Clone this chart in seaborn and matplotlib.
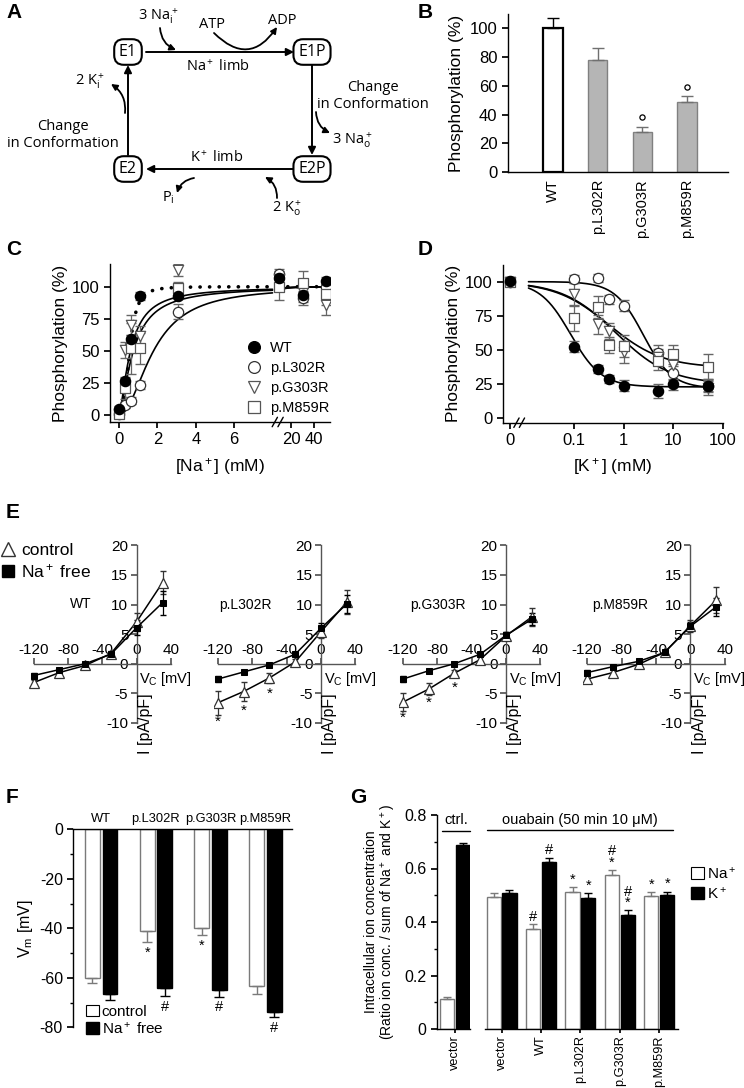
import numpy as np
import pandas as pd
import seaborn as sns
import matplotlib.pyplot as plt
from matplotlib.lines import Line2D
from matplotlib.patches import FancyArrowPatch, Patch
from matplotlib.ticker import NullLocator, MultipleLocator
from matplotlib.transforms import blended_transform_factory

sns.set_theme(style='ticks')
plt.rcParams['font.family'] = ['Liberation Sans', 'DejaVu Sans']
plt.rcParams['mathtext.fontset'] = 'custom'
plt.rcParams['mathtext.rm'] = 'Liberation Sans'
plt.rcParams['mathtext.it'] = 'Liberation Sans:italic'
plt.rcParams['mathtext.bf'] = 'Liberation Sans:bold'
plt.rcParams['mathtext.default'] = 'regular'
plt.rcParams['axes.unicode_minus'] = False
plt.rcParams['axes.edgecolor'] = 'black'
plt.rcParams['axes.linewidth'] = 1.0
plt.rcParams['xtick.color'] = 'black'
plt.rcParams['ytick.color'] = 'black'
plt.rcParams['text.color'] = 'black'
plt.rcParams['axes.labelcolor'] = 'black'

# ---------------- data ----------------
# B: phosphorylation level
b_groups = ['WT', 'p.L302R', 'p.G303R', 'p.M859R']
b_phos = [100, 78, 28, 49]
b_err = [7, 8, 3.5, 4]
b_mark = [False, False, True, True]

# C: Na+ dependence of phosphorylation
na_conc = [0, 0.3, 0.6, 1.1, 3.1, 10, 30, 50]
c_wt = [4.7, 26.5, 59, 92.7, 92.7, 107, 93.5, 104.4]
c_wt_err = [2, 3, 3, 3, 2, 4, 3, 3]
c_l302r = [0.5, 7.8, 11.2, 23.4, 80.5, 110, 91, 100]
c_l302r_err = [2, 2, 3, 3, 6, 4, 5, 5]
c_g303r = [1, 50.6, 70, 61.6, 113, 106, 96, 86]
c_g303r_err = [2, 6, 8, 8, 5, 6, 8, 8]
c_m859r = [0.5, 20.8, 52, 52, 98.7, 99.5, 102.6, 94]
c_m859r_err = [2, 8, 20, 12, 5, 10, 10, 8]
# Hill fits (K0.5 in mM, Hill coefficient)
c_fit_wt = (0.55, 3.0)
c_fit_l302r = (1.8, 2.0)
c_fit_g303r = (0.75, 1.5)
c_fit_m859r = (0.6, 1.5)

# D: K+ dependence of dephosphorylation
k_conc = [0, 0.1, 0.3, 0.5, 1, 5, 10, 50]
d_wt = [100.5, 52.4, 36, 28.8, 23.9, 20, 24.9, 23.9]
d_wt_err = [3, 4, 3, 3, 4, 5, 4, 4]
d_l302r = [100, 102, 102.4, 87, 82.4, 47.6, 33, 24]
d_l302r_err = [3, 3, 3, 3, 4, 6, 5, 5]
d_g303r = [100, 90.7, 68.8, 63.9, 48.8, 45, 39, 22]
d_g303r_err = [3, 8, 7, 6, 8, 6, 6, 5]
d_m859r = [100, 73.2, 81.7, 53.7, 53.2, 42, 46.8, 37.8]
d_m859r_err = [3, 9, 8, 6, 8, 7, 7, 9]
# inhibition fits (bottom, IC50 in mM, slope)
d_fit_wt = (23, 0.085, 1.4)
d_fit_l302r = (22, 2.5, 1.5)
d_fit_g303r = (25, 0.7, 0.8)
d_fit_m859r = (37, 0.5, 0.8)

# E: I-V relations
vc = [-120, -90, -60, -30, 0, 30]
e_names = ['WT', 'p.L302R', 'p.G303R', 'p.M859R']
e_wt_ctrl = [-3.2, -1.5, -0.3, 1.7, 7.1, 13.7]
e_wt_ctrl_err = [0.5, 0.4, 0.4, 0.4, 1.5, 2.0]
e_wt_free = [-2.0, -1.0, 0.0, 1.6, 6.1, 10.3]
e_wt_free_err = [0.4, 0.3, 0.3, 0.3, 1.3, 2.0]
e_l302r_ctrl = [-6.6, -4.7, -2.4, 0.3, 5.4, 10.4]
e_l302r_ctrl_err = [2.0, 1.6, 0.8, 0.5, 1.0, 2.0]
e_l302r_free = [-2.6, -1.4, -0.2, 1.6, 6.0, 10.1]
e_l302r_free_err = [0.5, 0.3, 0.3, 0.3, 0.8, 1.5]
e_g303r_ctrl = [-6.5, -4.3, -1.6, 0.7, 4.7, 7.9]
e_g303r_ctrl_err = [1.5, 1.0, 0.5, 0.4, 0.6, 1.5]
e_g303r_free = [-2.6, -1.2, 0.0, 1.6, 4.8, 7.5]
e_g303r_free_err = [0.5, 0.3, 0.3, 0.3, 0.5, 1.0]
e_m859r_ctrl = [-2.6, -1.5, -0.1, 1.9, 6.4, 10.7]
e_m859r_ctrl_err = [0.6, 0.4, 0.3, 0.3, 1.0, 2.2]
e_m859r_free = [-1.5, -0.5, 0.4, 1.9, 6.3, 9.6]
e_m859r_free_err = [0.4, 0.3, 0.3, 0.3, 0.8, 1.5]
e_star_v = [-120, -90, -60]
e_l302r_star = [-9.8, -7.9, -5.0]
e_g303r_star = [-9.2, -6.6, -4.0]

# F: membrane potential
f_groups = ['WT', 'p.L302R', 'p.G303R', 'p.M859R']
f_ctrl = [-60, -41, -40, -63.3]
f_ctrl_err = [2.3, 4.5, 2.7, 3.2]
f_free = [-66.5, -64, -65, -74]
f_free_err = [2.5, 3.4, 2.7, 1.9]
f_ctrl_sig = ['', '*', '*', '']
f_free_sig = ['', '#', '#', '#']

# G: intracellular ion ratio
g_ctrl_labels = ['vector']
g_ctrl_na = [0.112]
g_ctrl_na_err = [0.006]
g_ctrl_k = [0.686]
g_ctrl_k_err = [0.008]
g_labels = ['vector', 'WT', 'p.L302R', 'p.G303R', 'p.M859R']
g_na = [0.495, 0.373, 0.511, 0.576, 0.498]
g_na_err = [0.012, 0.018, 0.018, 0.018, 0.013]
g_k = [0.507, 0.625, 0.491, 0.425, 0.501]
g_k_err = [0.012, 0.016, 0.017, 0.018, 0.013]
g_na_sig = ['', '#', '*', '#\n*', '*']
g_k_sig = ['', '#', '*', '#\n*', '*']

# ---------------- layout helpers ----------------
W, H = 744, 1088
fig = plt.figure(figsize=(W / 100, H / 100), dpi=100)


def px_axes(x0, y0, x1, y1):
    return fig.add_axes([x0 / W, 1 - y1 / H, (x1 - x0) / W, (y1 - y0) / H])


def letter(x, y, s):
    fig.text(x / W, 1 - y / H, s, fontsize=15, fontweight='bold', ha='left', va='top')


letter(6, 3, 'A')
letter(418, 3, 'B')
letter(6, 240, 'C')
letter(418, 240, 'D')
letter(6, 503, 'E')
letter(6, 788, 'F')
letter(350, 788, 'G')

# ---------------- A: reaction cycle ----------------
axA = px_axes(0, 0, 370, 215)
axA.set_xlim(0, 370)
axA.set_ylim(215, 0)
axA.axis('off')
fa = dict(family=['Open Sans', 'DejaVu Sans'], fontsize=10.5)
boxes = {'E1': (128, 52), 'E1P': (312, 52), 'E2': (128, 169), 'E2P': (312, 169)}
for name, (x, y) in boxes.items():
    axA.text(x, y, name, ha='center', va='center', zorder=5, family=['Open Sans', 'DejaVu Sans'], fontsize=11.5,
             bbox=dict(boxstyle='round,pad=0.3,rounding_size=0.6', fc='white', ec='black', lw=1.5))


def arrow(p0, p1, rad=0.0, lw=1.4, ms=11):
    axA.add_patch(FancyArrowPatch(p0, p1, arrowstyle='-|>', mutation_scale=ms, lw=lw, color='black',
                                  connectionstyle=f'arc3,rad={rad}', shrinkA=0, shrinkB=0))


arrow((146, 52), (294, 52))
arrow((312, 65), (312, 155))
arrow((294, 169), (146, 169))
arrow((128, 155), (128, 65))
arrow((160, 28), (176, 50), rad=0.3, lw=1.3, ms=9)
arrow((214, 33), (277, 27), rad=0.6, lw=1.3, ms=9)
arrow((125, 113), (111, 84), rad=0.3, lw=1.3, ms=9)
arrow((316, 112), (330, 133), rad=0.3, lw=1.3, ms=9)
arrow((194, 178), (177, 193), rad=0.3, lw=1.3, ms=9)
arrow((277, 198), (265, 177), rad=0.3, lw=1.3, ms=9)
axA.text(158, 16, '3 Na$^+_i$', ha='center', va='center', **fa)
axA.text(212, 25, 'ATP', ha='center', va='center', **fa)
axA.text(282, 20, 'ADP', ha='center', va='center', **fa)
axA.text(218, 67, 'Na$^+$ limb', ha='center', va='center', **fa)
axA.text(217, 158, 'K$^+$ limb', ha='center', va='center', **fa)
axA.text(373, 96, 'Change\nin Conformation', ha='center', va='center', linespacing=1.2, **fa)
axA.text(63, 135, 'Change\nin Conformation', ha='center', va='center', linespacing=1.2, **fa)
axA.text(352, 140, '3 Na$^+_o$', ha='center', va='center', **fa)
axA.text(90, 81, '2 K$^+_i$', ha='center', va='center', **fa)
axA.text(168, 198, 'P$_i$', ha='center', va='center', **fa)
axA.text(287, 208, '2 K$^+_o$', ha='center', va='center', **fa)

# ---------------- B: phosphorylation bars ----------------
axB = px_axes(508, 14, 728, 172)
b_fill = ['white' if g == 'WT' else '#b5b5b5' for g in b_groups]
sns.barplot(x=b_groups, y=b_phos, hue=b_groups, palette=b_fill, legend=False, width=0.44,
            errorbar=None, ax=axB)
for bar, g in zip(axB.patches, b_groups):
    bar.set_edgecolor('black' if g == 'WT' else '#808080')
    bar.set_linewidth(1.6 if g == 'WT' else 1.0)
for i, (v, e, g) in enumerate(zip(b_phos, b_err, b_groups)):
    c = 'black' if g == 'WT' else '#707070'
    axB.errorbar(i, v, yerr=[[0], [e]], fmt='none', ecolor=c, elinewidth=1.0, capsize=4, capthick=1.0)
    if b_mark[i]:
        axB.scatter(i, v + e + 6.5, marker='o', s=14, facecolors='white', edgecolors='black', lw=0.9, zorder=5)
axB.set_ylim(0, 110)
axB.set_xlim(-1.0, 3.91)
axB.set_yticks([0, 20, 40, 60, 80, 100])
axB.tick_params(axis='y', labelsize=12, length=4)
axB.tick_params(axis='x', labelsize=10.5, rotation=90, length=0, pad=5)
axB.set_ylabel('Phosphorylation (%)', fontsize=12.5, labelpad=4)
sns.despine(ax=axB)

# ---------------- C: Na+ dependence ----------------
NA_CUT, NA_K = 8.25, 0.0607


def na_fwd(x):
    x = np.asarray(x, dtype=float)
    return np.where(x <= NA_CUT, x, NA_CUT + (x - NA_CUT) * NA_K)


def na_inv(u):
    u = np.asarray(u, dtype=float)
    return np.where(u <= NA_CUT, u, NA_CUT + (u - NA_CUT) / NA_K)


def hill_up(x, k, n):
    x = np.asarray(x, dtype=float)
    return 100 * x ** n / (k ** n + x ** n)


axC = px_axes(110, 264, 330, 422)
axC.set_xscale('function', functions=(na_fwd, na_inv))
x_left = np.linspace(0, 8, 200)
x_right = np.linspace(9, 52, 80)
for (k, n), ls, lw in [(c_fit_l302r, '-', 1.2), (c_fit_g303r, '-', 1.2), (c_fit_m859r, '-', 1.2),
                       (c_fit_wt, (0, (0.05, 2.6)), 2.6)]:
    for xs in (x_left, x_right):
        sns.lineplot(x=xs, y=hill_up(xs, k, n), ax=axC, color='black', lw=lw, ls=ls,
                     dash_capstyle='round', zorder=2)
c_series = [
    ('p.L302R', c_l302r, c_l302r_err, 'o', 'white', '#333333'),
    ('p.G303R', c_g303r, c_g303r_err, 'v', 'white', '#555555'),
    ('p.M859R', c_m859r, c_m859r_err, 's', 'white', '#555555'),
    ('WT', c_wt, c_wt_err, 'o', 'black', 'black'),
]
for name, ys, es, mk, fc, ec in c_series:
    axC.errorbar(na_conc, ys, yerr=es, fmt='none', ecolor='#666666', elinewidth=0.9, capsize=3.5, zorder=3)
    sns.scatterplot(x=na_conc, y=ys, ax=axC, marker=mk, s=55, color=fc, edgecolor=ec, linewidth=0.9, zorder=4)
axC.set_xlim(-0.47, 53.5)
axC.set_ylim(-5.5, 117.7)
axC.set_xticks([0, 2, 4, 6, 20, 40])
axC.set_xticklabels(['0', '2', '4', '6', '20', '40'])
axC.xaxis.set_minor_locator(NullLocator())
axC.set_yticks([0, 25, 50, 75, 100])
axC.tick_params(labelsize=12, length=4)
axC.set_ylabel('Phosphorylation (%)', fontsize=12.5, labelpad=3)
axC.set_xlabel('[Na$^+$] (mM)', fontsize=12.5, labelpad=6)
sns.despine(ax=axC)
u0, u1 = na_fwd(-0.47), na_fwd(53.5)
for uu in (8.12, 8.42):
    f = (uu - u0) / (u1 - u0)
    axC.plot([f - 0.012, f + 0.012], [-0.03, 0.03], transform=axC.transAxes, color='black', lw=1.0, clip_on=False)
c_handles = [Line2D([], [], ls='none', marker=mk, mfc=fc, mec=ec, ms=8.5, mew=0.9)
             for _, _, _, mk, fc, ec in [c_series[3]] + c_series[:3]]
axC.legend(c_handles, ['WT', 'p.L302R', 'p.G303R', 'p.M859R'], loc='lower left', bbox_to_anchor=(0.58, 0.0),
           frameon=False, fontsize=10.5, handletextpad=0.5, labelspacing=0.4, borderpad=0, handlelength=1.2)

# ---------------- D: K+ dependence ----------------
K0_POS, K_LIN = -2.296, 29.6


def k_fwd(x):
    x = np.asarray(x, dtype=float)
    return np.where(x < 0.01, K0_POS + K_LIN * x, np.log10(np.maximum(x, 0.01)))


def k_inv(u):
    u = np.asarray(u, dtype=float)
    return np.where(u < -2, (u - K0_POS) / K_LIN, 10 ** np.maximum(u, -2))


def hill_down(x, bottom, ic50, n):
    x = np.asarray(x, dtype=float)
    return bottom + (100 - bottom) / (1 + (x / ic50) ** n)


axD = px_axes(503.3, 265, 722.7, 422.7)
axD.set_xscale('function', functions=(k_fwd, k_inv))
xs_k = np.logspace(np.log10(0.012), np.log10(60), 250)
for prm in (d_fit_wt, d_fit_l302r, d_fit_g303r, d_fit_m859r):
    sns.lineplot(x=xs_k, y=hill_down(xs_k, *prm), ax=axD, color='black', lw=1.2, zorder=2)
d_series = [
    ('p.L302R', d_l302r, d_l302r_err, 'o', 'white', '#333333'),
    ('p.G303R', d_g303r, d_g303r_err, 'v', 'white', '#555555'),
    ('p.M859R', d_m859r, d_m859r_err, 's', 'white', '#555555'),
    ('WT', d_wt, d_wt_err, 'o', 'black', 'black'),
]
for name, ys, es, mk, fc, ec in d_series:
    axD.errorbar(k_conc, ys, yerr=es, fmt='none', ecolor='#666666', elinewidth=0.9, capsize=3.5, zorder=3)
    sns.scatterplot(x=k_conc, y=ys, ax=axD, marker=mk, s=55, color=fc, edgecolor=ec, linewidth=0.9, zorder=4)
axD.set_xlim(k_inv(-2.43), 100)
axD.set_ylim(-3.2, 112.2)
axD.set_xticks([0, 0.1, 1, 10, 100])
axD.set_xticklabels(['0', '0.1', '1', '10', '100'])
axD.xaxis.set_minor_locator(NullLocator())
axD.set_yticks([0, 25, 50, 75, 100])
axD.tick_params(labelsize=12, length=4)
axD.set_ylabel('Phosphorylation (%)', fontsize=12.5, labelpad=3)
axD.set_xlabel('[K$^+$] (mM)', fontsize=12.5, labelpad=6)
sns.despine(ax=axD)
for f in (0.06, 0.085):
    axD.plot([f - 0.012, f + 0.012], [-0.03, 0.03], transform=axD.transAxes, color='black', lw=1.0, clip_on=False)

# ---------------- E: I-V curves ----------------
e_ctrl = [e_wt_ctrl, e_l302r_ctrl, e_g303r_ctrl, e_m859r_ctrl]
e_ctrl_err = [e_wt_ctrl_err, e_l302r_ctrl_err, e_g303r_ctrl_err, e_m859r_ctrl_err]
e_free = [e_wt_free, e_l302r_free, e_g303r_free, e_m859r_free]
e_free_err = [e_wt_free_err, e_l302r_free_err, e_g303r_free_err, e_m859r_free_err]
e_stars = [None, e_l302r_star, e_g303r_star, None]
e_name_x = [-65, -88, -79, -81]
e_zero_px = [136.7, 321, 506, 690.3]
spine_c = '#555555'
for i, name in enumerate(e_names):
    x0 = e_zero_px[i]
    ax = px_axes(x0 - 125 * 0.86, 663.7 - 21 * 5.92, x0 + 45 * 0.86, 663.7 + 11 * 5.92)
    ax.set_xlim(-125, 45)
    ax.set_ylim(-11, 21)
    ax.errorbar(vc, e_ctrl[i], yerr=e_ctrl_err[i], fmt='none', ecolor='#333333', elinewidth=0.9, capsize=2.5, zorder=3)
    ax.errorbar(vc, e_free[i], yerr=e_free_err[i], fmt='none', ecolor='black', elinewidth=0.9, capsize=2.5, zorder=3)
    sns.lineplot(x=vc, y=e_ctrl[i], ax=ax, color='black', lw=1.1, marker='^', markersize=6.5,
                 markerfacecolor='white', markeredgecolor='#333333', markeredgewidth=0.9, zorder=4)
    sns.lineplot(x=vc, y=e_free[i], ax=ax, color='black', lw=1.1, marker='s', markersize=5,
                 markerfacecolor='black', markeredgecolor='black', zorder=5)
    if e_stars[i] is not None:
        for v, y in zip(e_star_v, e_stars[i]):
            ax.text(v, y, '*', ha='center', va='center', fontsize=11)
    ax.text(e_name_x[i], 10, name, ha='center', va='center', fontsize=10)
    for side in ('top', 'right'):
        ax.spines[side].set_visible(False)
    ax.spines['left'].set_position(('data', 0))
    ax.spines['bottom'].set_position(('data', 0))
    ax.spines['left'].set_bounds(-10, 20)
    ax.spines['bottom'].set_bounds(-120, 40)
    ax.spines['left'].set_color(spine_c)
    ax.spines['bottom'].set_color(spine_c)
    ax.set_xticks([-120, -80, -40, 0, 40])
    ax.set_yticks([-10, -5, 0, 5, 10, 15, 20])
    ax.tick_params(axis='x', direction='in', pad=-15, labelsize=11, length=4, color=spine_c)
    ax.tick_params(axis='y', direction='out', pad=2, labelsize=11, length=4, color=spine_c)
    ax.text(3, -2.6, 'V$_C$ [mV]', ha='left', va='center', fontsize=10.5)
    ax.text(1.5, -10.2, 'I [pA/pF]', ha='left', va='center', rotation=90, fontsize=11.5)
    ax.patch.set_alpha(0)
    if i == 0:
        e_handles = [Line2D([], [], ls='none', marker='^', mfc='white', mec='#333333', ms=10, mew=1.0),
                     Line2D([], [], ls='none', marker='s', mfc='black', mec='black', ms=9)]
        fig.legend(e_handles, ['control', 'Na$^+$ free'], loc='upper left', bbox_to_anchor=(0.0, 1 - 543 / H),
                   frameon=False, fontsize=12.5, handletextpad=0.3, labelspacing=0.25, borderpad=0,
                   handlelength=0.9, borderaxespad=0)

# ---------------- F: membrane potential ----------------
axF = px_axes(73.3, 829.3, 291.7, 1027.3)
df_f = pd.DataFrame({'group': f_groups * 2,
                     'cond': ['control'] * len(f_groups) + ['Na+ free'] * len(f_groups),
                     'vm': f_ctrl + f_free})
sns.barplot(data=df_f, x='group', y='vm', hue='cond', palette=['white', 'black'], width=0.64, gap=0.15,
            errorbar=None, legend=False, ax=axF)
bar_sets = list(axF.containers)
for cont, vals, errs, sigs, ec in [(bar_sets[0], f_ctrl, f_ctrl_err, f_ctrl_sig, '#7a7a7a'),
                                    (bar_sets[1], f_free, f_free_err, f_free_sig, 'black')]:
    for bar, v, e, s in zip(cont, vals, errs, sigs):
        bar.set_edgecolor(ec)
        bar.set_linewidth(1.0)
        xc = bar.get_x() + bar.get_width() / 2
        axF.errorbar(xc, v, yerr=[[e], [0]], fmt='none', ecolor=ec, elinewidth=1.0, capsize=3.5)
        if s:
            axF.text(xc, v - e - 4.2, s, ha='center', va='center', fontsize=10.5)
axF.set_xlim(-0.51, 3.48)
axF.set_ylim(-80, 0)
axF.xaxis.tick_top()
axF.set_xlabel('')
axF.tick_params(axis='x', length=0, labelsize=9.3, pad=3)
axF.set_yticks([-80, -60, -40, -20, 0])
axF.yaxis.set_minor_locator(MultipleLocator(10))
axF.tick_params(axis='y', which='major', labelsize=11.5, length=4)
axF.tick_params(axis='y', which='minor', length=2.5)
axF.set_ylabel('V$_m$ [mV]', fontsize=11.5, labelpad=3)
axF.spines['bottom'].set_visible(False)
axF.spines['right'].set_visible(False)
f_handles = [Patch(fc='white', ec='black', lw=0.8), Patch(fc='black', ec='black')]
axF.legend(f_handles, ['control', 'Na$^+$ free'], loc='lower left', bbox_to_anchor=(0.025, -0.085),
           frameon=False, fontsize=11, handletextpad=0.2, labelspacing=0.1, borderpad=0,
           handlelength=0.8, handleheight=0.8)

# ---------------- G: intracellular ions ----------------
axG1 = px_axes(436.7, 815, 470, 1029)
axG2 = px_axes(485, 815, 678, 1029)
df_g1 = pd.DataFrame({'grp': g_ctrl_labels * 2,
                      'ion': ['Na'] * len(g_ctrl_labels) + ['K'] * len(g_ctrl_labels),
                      'ratio': g_ctrl_na + g_ctrl_k})
df_g2 = pd.DataFrame({'grp': g_labels * 2,
                      'ion': ['Na'] * len(g_labels) + ['K'] * len(g_labels),
                      'ratio': g_na + g_k})
for ax, df, na_e, k_e, na_s, k_s in [(axG1, df_g1, g_ctrl_na_err, g_ctrl_k_err, [''], ['']),
                                       (axG2, df_g2, g_na_err, g_k_err, g_na_sig, g_k_sig)]:
    sns.barplot(data=df, x='grp', y='ratio', hue='ion', palette=['white', 'black'], width=0.8, gap=0.1,
                errorbar=None, legend=False, ax=ax)
    conts = list(ax.containers)
    for cont, vals, errs, sigs, ec in [(conts[0], df['ratio'][df['ion'] == 'Na'], na_e, na_s, '#7a7a7a'),
                                        (conts[1], df['ratio'][df['ion'] == 'K'], k_e, k_s, 'black')]:
        for bar, v, e, s in zip(cont, vals, errs, sigs):
            bar.set_edgecolor(ec)
            bar.set_linewidth(1.0)
            xc = bar.get_x() + bar.get_width() / 2
            ax.errorbar(xc, v, yerr=[[0], [e]], fmt='none', ecolor=ec, elinewidth=1.0, capsize=3)
            if s:
                ax.text(xc, v + e + 0.002, s, ha='center', va='bottom', fontsize=10.5, linespacing=0.75)
    ax.set_ylim(0, 0.8)
    ax.set_xlabel('')
    ax.set_ylabel('')
    ax.tick_params(axis='x', rotation=90, labelsize=9.2, length=3, pad=1.5)
    ax.spines['top'].set_visible(False)
    ax.spines['right'].set_visible(False)
axG1.set_xlim(-0.465, 0.38)
axG2.set_xlim(-0.42, 4.475)
axG1.set_yticks([0, 0.2, 0.4, 0.6, 0.8])
axG1.set_yticklabels(['0', '0.2', '0.4', '0.6', '0.8'])
axG1.yaxis.set_minor_locator(MultipleLocator(0.1))
axG1.tick_params(axis='y', which='major', labelsize=11.5, length=4)
axG1.tick_params(axis='y', which='minor', length=2.5)
axG1.set_ylabel('Intracellular ion concentration\n(Ratio ion conc. / sum of Na$^+$ and K$^+$)',
                fontsize=10, labelpad=4, linespacing=1.1)
axG2.spines['left'].set_visible(False)
axG2.set_yticks([])
t1 = blended_transform_factory(axG1.transAxes, axG1.transData)
t2 = blended_transform_factory(axG2.transAxes, axG2.transData)
axG1.plot([0.15, 1.0], [0.74, 0.74], transform=t1, color='black', lw=1.0, clip_on=False)
axG1.text(0.58, 0.78, 'ctrl.', transform=t1, ha='center', va='center', fontsize=10.5)
axG2.plot([0.01, 0.975], [0.745, 0.745], transform=t2, color='black', lw=1.0, clip_on=False)
axG2.text(0.49, 0.783, 'ouabain (50 min 10 μM)', transform=t2, ha='center', va='center', fontsize=10.5)
g_handles = [Patch(fc='white', ec='black', lw=0.8), Patch(fc='black', ec='black')]
axG2.legend(g_handles, ['Na$^+$', 'K$^+$'], loc='upper left', bbox_to_anchor=(1.03, 0.8),
            frameon=False, fontsize=11, handletextpad=0.2, labelspacing=0.25, borderpad=0,
            handlelength=0.8, handleheight=0.8)

fig.savefig('out.png', dpi=100)
